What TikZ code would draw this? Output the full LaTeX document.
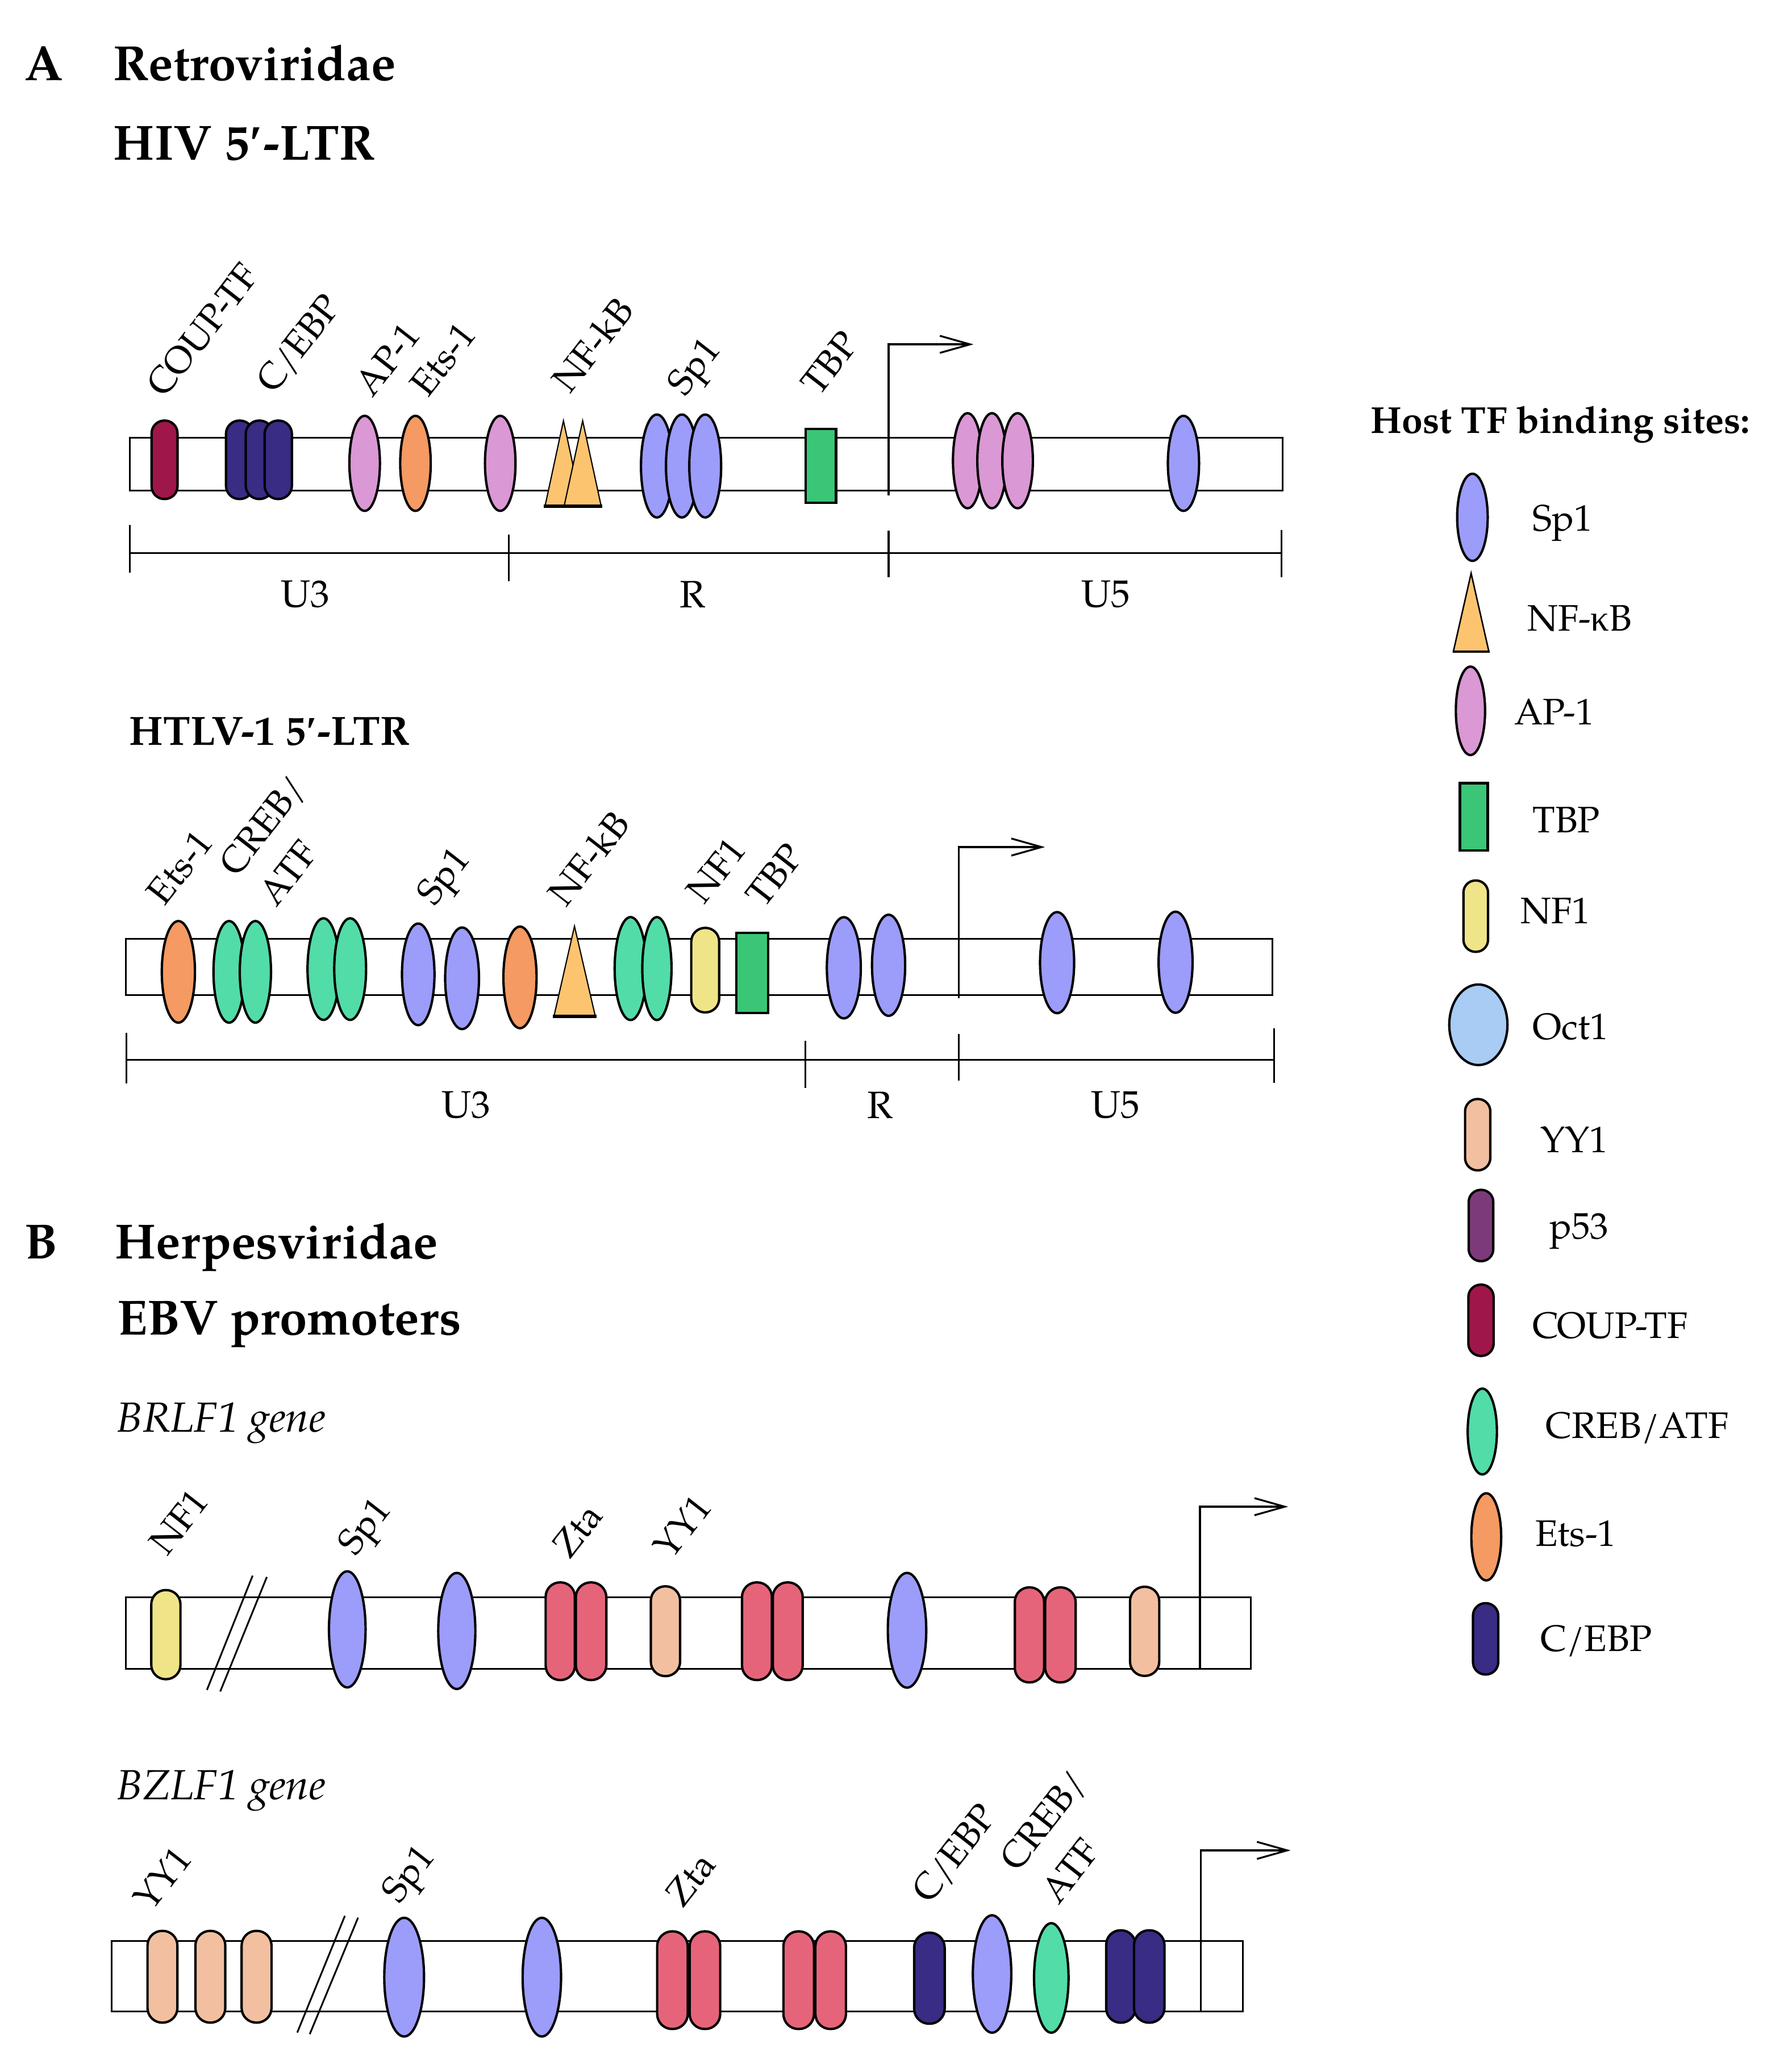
\documentclass[tikz,border=0pt]{standalone}
\usepackage{fontspec}
\setmainfont{texgyrepagella}[Extension=.otf, UprightFont=*-regular, BoldFont=*-bold, ItalicFont=*-italic, BoldItalicFont=*-bolditalic]
\newfontfamily\libs{Liberation Serif}
\usetikzlibrary{arrows.meta,shapes.geometric}
\definecolor{cSp}{RGB}{156,156,250}
\definecolor{cNF}{RGB}{253,196,112}
\definecolor{cAP}{RGB}{218,152,212}
\definecolor{cTBP}{RGB}{58,198,118}
\definecolor{cNFone}{RGB}{240,228,136}
\definecolor{cOct}{RGB}{168,204,244}
\definecolor{cYY}{RGB}{242,192,160}
\definecolor{cPf}{RGB}{125,58,122}
\definecolor{cCOUP}{RGB}{158,22,74}
\definecolor{cCREB}{RGB}{82,220,168}
\definecolor{cEts}{RGB}{244,154,98}
\definecolor{cCEBP}{RGB}{56,44,132}
\definecolor{cZta}{RGB}{230,100,122}
\begin{document}
\begin{tikzpicture}[x=1pt,y=-1pt,
  site/.style={draw=black, line width=1.8pt, inner sep=0pt, outer sep=0pt},
  oval/.style n args={3}{site, ellipse, fill=#1, minimum width=#2-1.8, minimum height=#3-1.8},
  pill/.style n args={3}{site, rectangle, fill=#1, minimum width=#2-1.8, minimum height=#3-1.8, rounded corners=0.49*(#2-1.8)},
  tbp/.style 2 args={site, rectangle, fill=cTBP, line width=1.9pt, minimum width=#1-1.9, minimum height=#2-1.9},
  gbox/.style={draw=black, line width=1.3pt, fill=white, rectangle, inner sep=0pt},
  tri/.style={fill=cNF, draw=black, line width=0.9pt},
  triBase/.style={line width=2.6pt},
  rul/.style={line width=1.4pt},
  brk/.style={line width=1.3pt},
  tss/.style={line width=1.4pt, -{Straight Barb[length=23pt,width=13pt]}},
  ttl/.style={font=\fontsize{37.5}{45}\selectfont\bfseries, anchor=base west, inner sep=0pt},
  ttlb/.style={font=\fontsize{31}{37}\selectfont\bfseries, anchor=base west, inner sep=0pt},
  gene/.style={font=\fontsize{32}{38}\selectfont\itshape, anchor=base west, inner sep=0pt},
  legt/.style={font=\fontsize{28.5}{34}\selectfont\bfseries, anchor=base west, inner sep=0pt},
  leg/.style={font=\fontsize{28}{34}\selectfont, anchor=base west, inner sep=0pt},
  seg/.style={font=\fontsize{29}{35}\selectfont, inner sep=0pt},
  lbl/.style={font=\fontsize{28}{34}\selectfont, rotate=52, anchor=base west, inner sep=0pt}]
\useasboundingbox (0,0) rectangle (1361,1568);
\fill[white] (0,0) rectangle (1361,1568);

% ---------------- titles
\node[ttl] (tA) at (18.6,61) {A};
\node[ttl] (tRetro) at (86,61) {Retroviridae};
\node[ttl] (tHIV) at (86,121.6) {HIV 5{\libs ′}-LTR};
\node[ttlb] (tHTLV) at (98,566) {HTLV-1 5{\libs ′}-LTR};
\node[ttl] (tB) at (18.6,956.4) {B};
\node[ttl] (tHerpes) at (87.2,956.4) {Herpesviridae};
\node[ttl] (tEBV) at (89,1014) {EBV promoters};
\node[gene] (gBR) at (88.7,1088) {BRLF1 gene};
\node[gene] (gBZ) at (88.7,1367) {BZLF1 gene};

% ---------------- HIV 5'-LTR
\node[gbox, minimum width=875.8, minimum height=40.1] (hbox) at (536.6,352.75) {};
\coordinate (hr0) at (98.7,420.2);
\coordinate (hr1) at (973.5,420.2);
\draw[rul] (hr0) -- (hr1);
\draw[rul] (98.7,399) -- (98.7,435);
\draw[rul] (386.6,406) -- (386.6,441.5);
\draw[rul] (675,403) -- (675,438.5);
\draw[rul] (973.5,402.5) -- (973.5,438.4);
\node[seg] (hU3) at (232,451.5) {U3};
\node[seg] (hR) at (526,451.5) {R};
\node[seg] (hU5) at (840,451.5) {U5};

\node[pill={cCOUP}{21.5}{61.4}] (h1) at (125,349.3) {};
\node[pill={cCEBP}{22.5}{61.4}] (h2) at (182,349.3) {};
\node[pill={cCEBP}{22.5}{61.4}] (h3) at (197,349.3) {};
\node[pill={cCEBP}{22.5}{61.4}] (h4) at (211.4,349.3) {};
\node[oval={cAP}{25}{74}] (h5) at (277,352) {};
\node[oval={cEts}{25}{74}] (h6) at (315.6,352) {};
\node[oval={cAP}{25}{74}] (h7) at (380,352) {};
\filldraw[tri] (414,384.6) -- (428,319.6) -- (442,384.6) -- cycle;
\filldraw[tri] (428.5,384.6) -- (442.6,319.6) -- (456.7,384.6) -- cycle;
\draw[triBase] (413,384.6) -- (457.5,384.6);
\node[oval={cSp}{26}{80}] (h8) at (499,354) {};
\node[oval={cSp}{26}{80}] (h9) at (518,354) {};
\node[oval={cSp}{26}{80}] (h10) at (535.7,354) {};
\node[tbp={25}{58}] (h11) at (623.5,354) {};
\node[oval={cAP}{24}{74}] (h12) at (735,350) {};
\node[oval={cAP}{24}{74}] (h13) at (753.5,350) {};
\node[oval={cAP}{25}{74}] (h14) at (773,350) {};
\node[oval={cSp}{25.5}{74}] (h15) at (899,352) {};
\coordinate (htss) at (675,376.5);
\coordinate (hto) at (739.5,261.6);
\draw[tss] (htss) |- (hto);

\node[lbl] (hl1) at (125,303) {COUP-TF};
\node[lbl] (hl2) at (208,300) {C/EBP};
\node[lbl] (hl3) at (283,303) {AP-1};
\node[lbl] (hl4) at (325,303) {Ets-1};
\node[lbl] (hl5) at (433,300) {NF-kB};
\node[lbl] (hl6) at (520,302) {Sp1};
\node[lbl] (hl7) at (622,302) {TBP};

% ---------------- HTLV-1 5'-LTR
\node[gbox, minimum width=870.7, minimum height=42.8] (tbox) at (531.05,734.4) {};
\coordinate (tr0) at (95.9,805.3);
\coordinate (tr1) at (968,805.3);
\draw[rul] (tr0) -- (tr1);
\draw[rul] (95.9,784.5) -- (95.9,823);
\draw[rul] (611.8,790.7) -- (611.8,826.5);
\draw[rul] (728.2,785.5) -- (728.2,821);
\draw[rul] (968,781) -- (968,822.7);
\node[seg] (tU3) at (354,839.4) {U3};
\node[seg] (tR) at (668.5,839.4) {R};
\node[seg] (tU5) at (847.4,839.4) {U5};

\node[oval={cEts}{27}{79}] (t1) at (135.5,738.3) {};
\node[oval={cCREB}{25.5}{79}] (t2) at (174,738.3) {};
\node[oval={cCREB}{25.5}{79}] (t3) at (194,738.3) {};
\node[oval={cCREB}{26}{79}] (t4) at (245.7,736.2) {};
\node[oval={cCREB}{26}{79}] (t5) at (266,736.2) {};
\node[oval={cSp}{26.5}{79}] (t6) at (317.7,740.2) {};
\node[oval={cSp}{27.5}{79}] (t7) at (351,743.2) {};
\node[oval={cEts}{27}{79}] (t8) at (395,742.5) {};
\filldraw[tri] (420.8,772) -- (436.4,703.6) -- (452.2,772) -- cycle;
\draw[triBase] (420,772) -- (453,772);
\node[oval={cCREB}{26}{80}] (t9) at (479,735.8) {};
\node[oval={cCREB}{24}{80}] (t10) at (499,735.8) {};
\node[pill={cNFone}{23}{66}] (t11) at (535.7,737) {};
\node[tbp={26}{62.7}] (t12) at (571.35,739.15) {};
\node[oval={cSp}{27.6}{78.7}] (t13) at (641,735.2) {};
\node[oval={cSp}{27}{78.6}] (t14) at (675,733.3) {};
\node[oval={cSp}{27.7}{78.6}] (t15) at (803,731.3) {};
\node[oval={cSp}{27.6}{78.6}] (t16) at (893,731) {};
\coordinate (ttss) at (728.2,758.4);
\coordinate (tto) at (793.8,643.5);
\draw[tss] (ttss) |- (tto);

\node[lbl] (tl1) at (125,689) {Ets-1};
\node[lbl] (tl2) at (180,667) {CREB/};
\node[lbl] (tl3) at (210,690) {ATF};
\node[lbl] (tl4) at (330,689) {Sp1};
\node[lbl] (tl5) at (430,690) {NF-kB};
\node[lbl] (tl6) at (535,688) {NF1};
\node[lbl] (tl7) at (580,691) {TBP};

% ---------------- BRLF1
\node[gbox, minimum width=854.5, minimum height=54] (rbox) at (522.75,1240.6) {};
\node[pill={cNFone}{24}{69.5}] (r1) at (126,1241.8) {};
\draw[brk] (191.9,1197) -- (157.2,1283.8);
\draw[brk] (202.7,1198) -- (167.3,1285);
\node[oval={cSp}{29.6}{90}] (r2) at (263.8,1237.8) {};
\node[oval={cSp}{30}{90}] (r3) at (347,1239) {};
\node[pill={cZta}{24}{76}] (r4) at (425.6,1239.2) {};
\node[pill={cZta}{25}{76}] (r5) at (449,1239.2) {};
\node[pill={cYY}{24}{70}] (r6) at (505.5,1239.2) {};
\node[pill={cZta}{24.5}{76}] (r7) at (575,1239.2) {};
\node[pill={cZta}{24.5}{76}] (r8) at (598.4,1239.2) {};
\node[oval={cSp}{31}{89}] (r9) at (689,1238.5) {};
\node[pill={cZta}{24}{74}] (r10) at (782,1242) {};
\node[pill={cZta}{25}{74}] (r11) at (805.5,1242) {};
\node[pill={cYY}{24}{69.5}] (r12) at (869.5,1239.3) {};
\coordinate (rtss) at (911.5,1267.6);
\coordinate (rto) at (978.5,1144.6);
\draw[tss] (rtss) |- (rto);

\node[lbl] (rl1) at (127,1183) {NF1};
\node[lbl] (rl2) at (270,1183) {Sp1};
\node[lbl] (rl3) at (433,1185) {Zta};
\node[lbl] (rl4) at (510,1186) {YY1};

% ---------------- BZLF1
\node[gbox, minimum width=859.7, minimum height=53.3] (zbox) at (514.45,1501.35) {};
\node[pill={cYY}{24.5}{71.5}] (z1) at (123.4,1501.7) {};
\node[pill={cYY}{24.5}{71.5}] (z2) at (159.8,1501.7) {};
\node[pill={cYY}{24.5}{71.5}] (z3) at (194.9,1501.7) {};
\draw[brk] (262,1455.4) -- (225.8,1544.1);
\draw[brk] (272,1456.8) -- (235.3,1545.3);
\node[oval={cSp}{32}{92}] (z4) at (307,1502) {};
\node[oval={cSp}{31}{92}] (z5) at (411.6,1502) {};
\node[pill={cZta}{25}{76}] (z6) at (510.8,1504.3) {};
\node[pill={cZta}{25}{76}] (z7) at (535.5,1504.3) {};
\node[pill={cZta}{25}{76}] (z8) at (606.7,1504.3) {};
\node[pill={cZta}{25}{76}] (z9) at (631,1504.3) {};
\node[pill={cCEBP}{25}{71}] (z10) at (706,1502.8) {};
\node[oval={cSp}{31}{91}] (z11) at (753.6,1499.6) {};
\node[oval={cCREB}{28}{85}] (z12) at (798.6,1502.6) {};
\node[pill={cCEBP}{24}{72}] (z13) at (851.4,1501.5) {};
\node[pill={cCEBP}{25}{72}] (z14) at (873,1501.5) {};
\coordinate (ztss) at (912.3,1528);
\coordinate (zto) at (980.4,1405.7);
\draw[tss] (ztss) |- (zto);

\node[lbl] (zl1) at (115,1453) {YY1};
\node[lbl] (zl2) at (303,1447) {Sp1};
\node[lbl] (zl3) at (519,1450) {Zta};
\node[lbl] (zl4) at (706,1447) {C/EBP};
\node[lbl] (zl5) at (773,1423) {CREB/};
\node[lbl] (zl6) at (804,1448) {ATF};

% ---------------- legend
\node[legt] (legT) at (1041,329) {Host TF binding sites:};
\node[oval={cSp}{25}{68}] (k1) at (1118.5,393) {};
\filldraw[tri, line width=1.1pt] (1104,495) -- (1117.5,435.5) -- (1131,495) -- cycle;
\draw[line width=2pt] (1103.5,495) -- (1131.5,495);
\node[oval={cAP}{24}{69}] (k3) at (1117,540) {};
\node[tbp={23}{53}] (k4) at (1119.5,620.5) {};
\node[pill={cNFone}{20.5}{56}] (k5) at (1121,696) {};
\node[oval={cOct}{46}{63}] (k6) at (1123,778.5) {};
\node[pill={cYY}{21}{56}] (k7) at (1122.5,862) {};
\node[pill={cPf}{20.5}{56}] (k8) at (1125,931) {};
\node[pill={cCOUP}{21}{56}] (k9) at (1125,1003) {};
\node[oval={cCREB}{24}{67}] (k10) at (1126,1087.5) {};
\node[oval={cEts}{24.5}{68}] (k11) at (1129,1167.5) {};
\node[pill={cCEBP}{21}{56}] (k12) at (1128.5,1245) {};

\node[leg] (kl1) at (1164,403.5) {Sp1};
\node[leg] (kl2) at (1160,479.5) {NF-{\libs κ}B};
\node[leg] (kl3) at (1150,550.5) {AP-1};
\node[leg] (kl4) at (1164,632.5) {TBP};
\node[leg] (kl5) at (1155,701.5) {NF1};
\node[leg] (kl6) at (1164,789.5) {Oct1};
\node[leg] (kl7) at (1170,875.5) {YY1};
\node[leg] (kl8) at (1177,941) {p53};
\node[leg] (kl9) at (1164,1016.5) {COUP-TF};
\node[leg] (kl10) at (1174,1092.5) {CREB/ATF};
\node[leg] (kl11) at (1166,1174.5) {Ets-1};
\node[leg] (kl12) at (1170,1254.5) {C/EBP};
\end{tikzpicture}
\end{document}
